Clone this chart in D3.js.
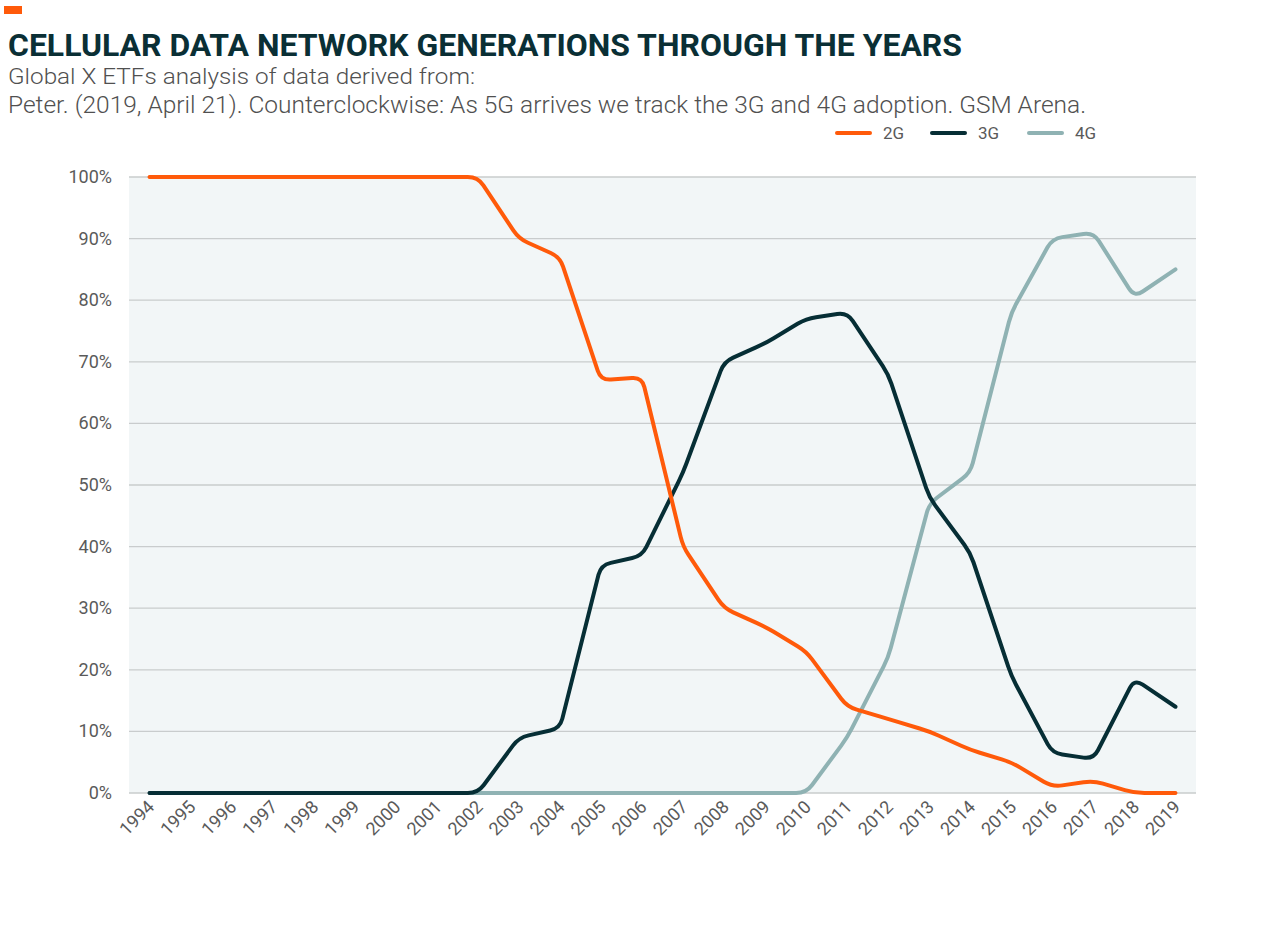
<!DOCTYPE html>
<html><head><meta charset="utf-8">
<script src="https://cdn.jsdelivr.net/npm/d3@7"></script>
<style>body{margin:0;background:#fff}svg{display:block}</style>
</head><body>
<script>
const years = ["1994","1995","1996","1997","1998","1999","2000","2001","2002","2003","2004","2005","2006","2007","2008","2009","2010","2011","2012","2013","2014","2015","2016","2017","2018","2019"];
const g2 = [100,100,100,100,100,100,100,100,100,90,87,67,67.5,40,30,27,23,14,12,10,7,5,1,2,0,0];
const g3 = [0,0,0,0,0,0,0,0,0,9,10.5,37,38.5,52,70,73,77,78,68,48,39,19,6.5,5.5,18.5,14];
const g4 = [0,0,0,0,0,0,0,0,0,0,0,0,0,0,0,0,0,9,22,47,52,78,90,91,80.5,85];
const yTicks = [0,10,20,30,40,50,60,70,80,90,100];
const seriesNames = ["2G","3G","4G"];
const colors = {"2G":"#FF5A0A","3G":"#062E35","4G":"#8FB2B3"};

const W=1280,H=929;
const svg=d3.select("body").append("svg").attr("width",W).attr("height",H);
const pL=129,pR=1196,pT=177,pB=793;
const x=d3.scalePoint().domain(years).range([pL,pR]).padding(0.5);
const y=d3.scaleLinear().domain([0,100]).range([pB,pT]);
const FONT="Roboto, sans-serif";

// header
svg.append("rect").attr("x",4).attr("y",6).attr("width",18).attr("height",8).attr("fill","#FF5A0A");
svg.append("text").attr("x",8).attr("y",56).attr("font-family",FONT).attr("font-weight",700)
  .attr("font-size",32).attr("fill","#0A2F35").attr("textLength",954).attr("lengthAdjust","spacingAndGlyphs")
  .text("CELLULAR DATA NETWORK GENERATIONS THROUGH THE YEARS");
svg.append("text").attr("x",8).attr("y",84).attr("font-family",FONT).attr("font-weight",300)
  .attr("font-size",22).attr("fill","#505050").attr("textLength",467).attr("lengthAdjust","spacingAndGlyphs")
  .text("Global X ETFs analysis of data derived from:");
svg.append("text").attr("x",8).attr("y",113).attr("font-family",FONT).attr("font-weight",300)
  .attr("font-size",23).attr("fill","#505050").attr("textLength",1078).attr("lengthAdjust","spacingAndGlyphs")
  .text("Peter. (2019, April 21). Counterclockwise: As 5G arrives we track the 3G and 4G adoption. GSM Arena.");

// legend
const legX=[837,932,1029];
seriesNames.forEach((s,i)=>{
  svg.append("line").attr("x1",legX[i]).attr("x2",legX[i]+33).attr("y1",133).attr("y2",133)
    .attr("stroke",colors[s]).attr("stroke-width",4).attr("stroke-linecap","round");
  svg.append("text").attr("x",legX[i]+46).attr("y",139).attr("font-family",FONT).attr("font-weight",400)
    .attr("font-size",17).attr("fill","#5a5a5a").text(s);
});

// plot bg
svg.append("rect").attr("x",pL).attr("y",pT).attr("width",pR-pL).attr("height",pB-pT).attr("fill","#F2F6F7");
// grid
svg.append("g").selectAll("line").data(yTicks).join("line")
  .attr("x1",pL).attr("x2",pR).attr("y1",d=>y(d)).attr("y2",d=>y(d))
  .attr("stroke","#C9CCCD").attr("stroke-width",1.3);
// y labels
svg.append("g").selectAll("text").data(yTicks).join("text")
  .attr("x",112).attr("y",d=>y(d)+6).attr("text-anchor","end")
  .attr("font-family",FONT).attr("font-weight",400).attr("font-size",18).attr("fill","#5a5a5a")
  .text(d=>d+"%");
// x labels
svg.append("g").selectAll("text").data(years).join("text")
  .attr("transform",d=>`translate(${x(d)+6},${pB+15}) rotate(-45)`).attr("text-anchor","end")
  .attr("font-family",FONT).attr("font-weight",400).attr("font-size",18).attr("fill","#5a5a5a")
  .text(d=>d);

function roundedPath(pts,r){
  let d=`M${pts[0][0]},${pts[0][1]}`;
  for(let i=1;i<pts.length-1;i++){
    const p0=pts[i-1],p1=pts[i],p2=pts[i+1];
    const d1=Math.hypot(p1[0]-p0[0],p1[1]-p0[1]), d2=Math.hypot(p2[0]-p1[0],p2[1]-p1[1]);
    const rr=Math.min(r,d1/2,d2/2);
    const a=[p1[0]-(p1[0]-p0[0])*rr/d1,p1[1]-(p1[1]-p0[1])*rr/d1];
    const b=[p1[0]+(p2[0]-p1[0])*rr/d2,p1[1]+(p2[1]-p1[1])*rr/d2];
    d+=`L${a[0]},${a[1]}Q${p1[0]},${p1[1]} ${b[0]},${b[1]}`;
  }
  const l=pts[pts.length-1];
  d+=`L${l[0]},${l[1]}`;
  return d;
}
const data={"2G":g2,"3G":g3,"4G":g4};
["4G","3G","2G"].forEach(s=>{
  const pts=years.map((yr,i)=>[x(yr),y(data[s][i])]);
  svg.append("path").attr("d",roundedPath(pts,10)).attr("fill","none")
    .attr("stroke",colors[s]).attr("stroke-width",4).attr("stroke-linecap","round").attr("stroke-linejoin","round");
});
</script>
</body></html>
